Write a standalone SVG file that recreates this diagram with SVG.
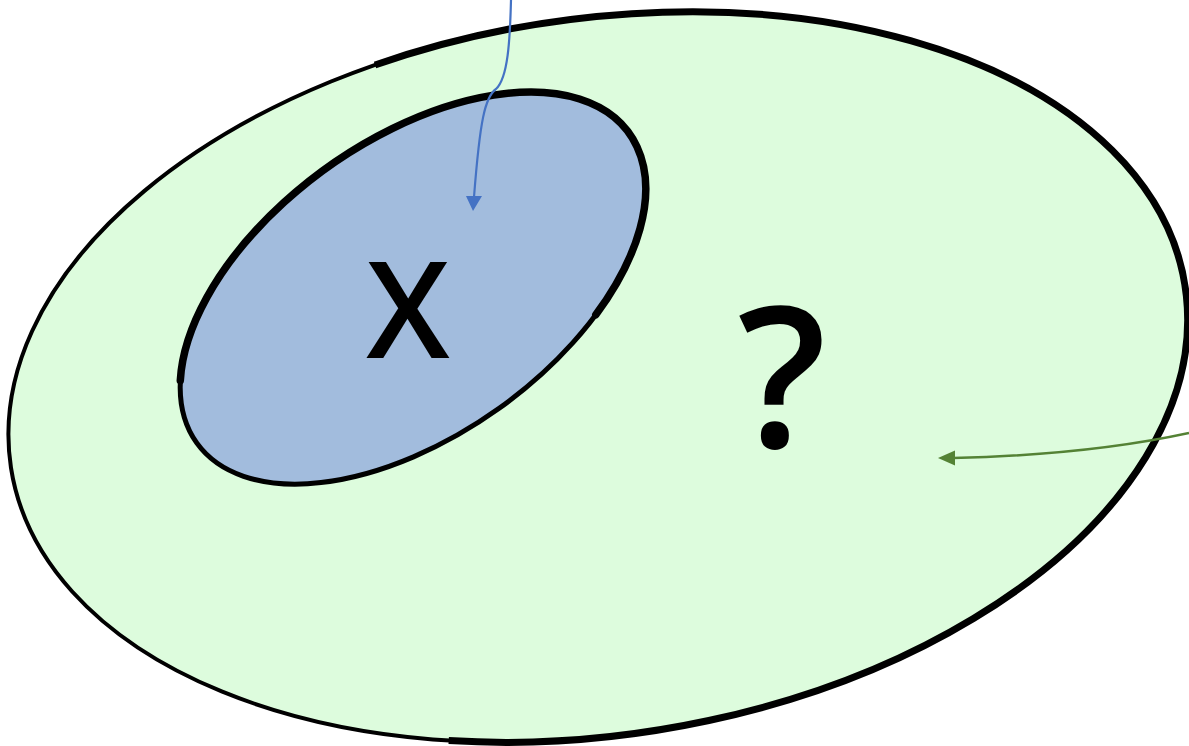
<svg xmlns="http://www.w3.org/2000/svg" width="1189" height="746" viewBox="0 0 1189 746">
<style>
.lbl{font-family:"Open Sans","Noto Sans","Liberation Sans",sans-serif;fill:#000;text-anchor:middle;font-weight:600}
.edge{fill:none;stroke:#000}
</style>
<rect width="1189" height="746" fill="#fff"/>
<g id="outer">
<ellipse cx="598" cy="377" rx="594" ry="358" transform="rotate(-8.8 598 377)" fill="#DDFCDD" stroke="#000" stroke-width="4"/>
<path class="edge" stroke-width="7" d="M375,65 A594,358 -8.8 1 1 448.7,740.6"/>
<text class="lbl" x="782" y="447" font-size="196">?</text>
</g>
<g id="inner">
<ellipse cx="413" cy="288" rx="266" ry="148" transform="rotate(-35.6 413 288)" fill="#A2BCDD" stroke="#000" stroke-width="5"/>
<path class="edge" stroke-width="7.5" stroke-linecap="round" d="M180.3,380.5 A266,148 -35.6 1 1 595.8,314.8"/>
<text class="lbl" x="408" y="358" font-size="134">X</text>
</g>
<g id="connectors">
<path d="M511,0 C510,40 508,78 496,89 C485,97 480,120 474,197" fill="none" stroke="#4472C4" stroke-width="2.2"/>
<polygon points="466,196 482,196 473,211" fill="#4472C4"/>
<path d="M1189,433 C1120,448 1040,456 953,458" fill="none" stroke="#548235" stroke-width="2.5"/>
<polygon points="938,458 955,450.5 955,465.5" fill="#548235"/>
</g>
</svg>
